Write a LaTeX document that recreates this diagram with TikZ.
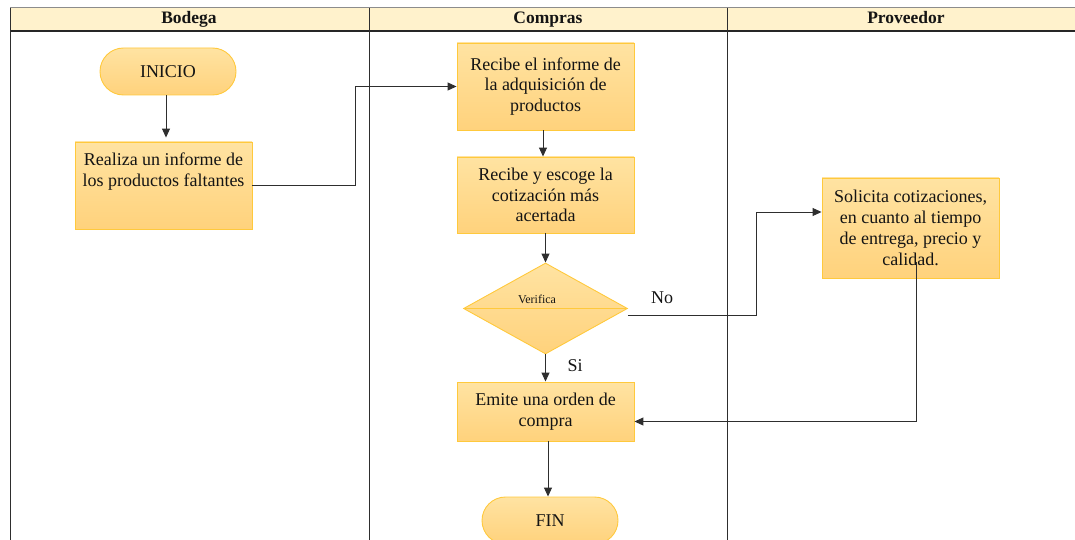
\documentclass[tikz,border=0pt]{standalone}
\usepackage{fontspec}
\setmainfont{Liberation Serif}
\usetikzlibrary{shapes.geometric,arrows.meta,calc}
\definecolor{hdr}{HTML}{FFF2CC}
\definecolor{ftop}{HTML}{FFE3A2}
\definecolor{fbot}{HTML}{FFD27C}
\definecolor{bord}{HTML}{FFC93C}
\definecolor{lin}{HTML}{2E2E2E}
\definecolor{txt}{HTML}{141414}
\begin{document}
\begin{tikzpicture}[x=1pt,y=-1pt, font=\fontsize{18}{20.8}\selectfont, text=txt,
 proc/.style={draw=bord, line width=0.9pt, top color=ftop, bottom color=fbot, minimum width=177pt, align=center, inner sep=2pt},
 term/.style={draw=bord, line width=0.9pt, top color=ftop, bottom color=fbot, minimum width=136pt, minimum height=47pt, rounded corners=23.5pt},
 conn/.style={draw=lin, line width=1pt},
 arr/.style={conn, -{Triangle[length=9pt,width=8pt]}},
 lane/.style={draw=lin, line width=0.9pt},
 hlabel/.style={font=\bfseries\fontsize{17.5}{20}\selectfont, text=txt, text height=12pt, text depth=4pt},
 plain/.style={text=txt}]
\useasboundingbox (0,0) rectangle (1075,540);
\clip (0,0) rectangle (1075,540);
% header
\fill[hdr] (10,8) rectangle (1075,31);
\draw[draw=black!45, line width=1pt] (10,8) -- (1075,8);
\draw[draw=black!85, line width=1.6pt] (10,31) -- (1075,31);
\draw[lane] (10,8) -- (10,540);
\draw[lane] (369,8) -- (369,540);
\draw[lane] (727,8) -- (727,540);
\node[hlabel] (hb) at (189,20) {Bodega};
\node[hlabel] (hc) at (548,20) {Compras};
\node[hlabel] (hp) at (906,20) {Proveedor};
% nodes
\node[term] (ini) at (168,71.5) {INICIO};
\node[proc, minimum height=87pt, text depth=32pt] (rea) at (163.5,185.5) {Realiza un informe de\\los productos faltantes};
\node[proc, minimum height=87pt] (rec) at (545.5,86.5) {Recibe el informe de\\la adquisición de\\productos};
\node[proc, minimum height=76pt] (esc) at (545.5,195) {Recibe y escoge la\\cotización más\\acertada};
\node[diamond, draw=bord, line width=0.9pt, top color=ftop, bottom color=fbot, minimum width=164pt, minimum height=91pt, shape aspect=1.8, inner sep=0pt] (ver) at (545.5,308.5) {};
\draw[draw=bord, line width=0.9pt] (ver.west) -- (ver.east);
\node[font=\fontsize{12}{14}\selectfont, text=txt] (vtx) at (537,299) {Verifica};
\node[proc, minimum height=100pt] (sol) at (910.5,228) {Solicita cotizaciones,\\en cuanto al tiempo\\de entrega, precio y\\calidad.};
\node[proc, minimum height=59pt] (emi) at (545.5,411.5) {Emite una orden de\\compra};
\node[term] (fin) at (550,520.5) {FIN};
\node[plain] (no) at (662,298) {No};
\node[plain] (si) at (575,366) {Si};
% connectors
\draw[arr] (ini.south -| 166,0) -- ([yshift=4pt]rea.north -| 166,0);
\draw[arr] (rea.east) -- ++(103,0) |- (rec.west);
\draw[arr] (rec.south -| 543,0) -- (esc.north -| 543,0);
\draw[arr] (esc.south) -- (ver.north);
\draw[arr] ([yshift=-7pt]ver.east) -- ++(129,0) |- ([yshift=16pt]sol.west);
\draw[arr] (ver.south) -- (emi.north);
\draw[arr] ([xshift=5.5pt,yshift=16pt]sol.south) |- ([yshift=-10pt]emi.east);
\draw[arr] (emi.south -| 548,0) -- (fin.north -| 548,0);
\end{tikzpicture}
\end{document}
